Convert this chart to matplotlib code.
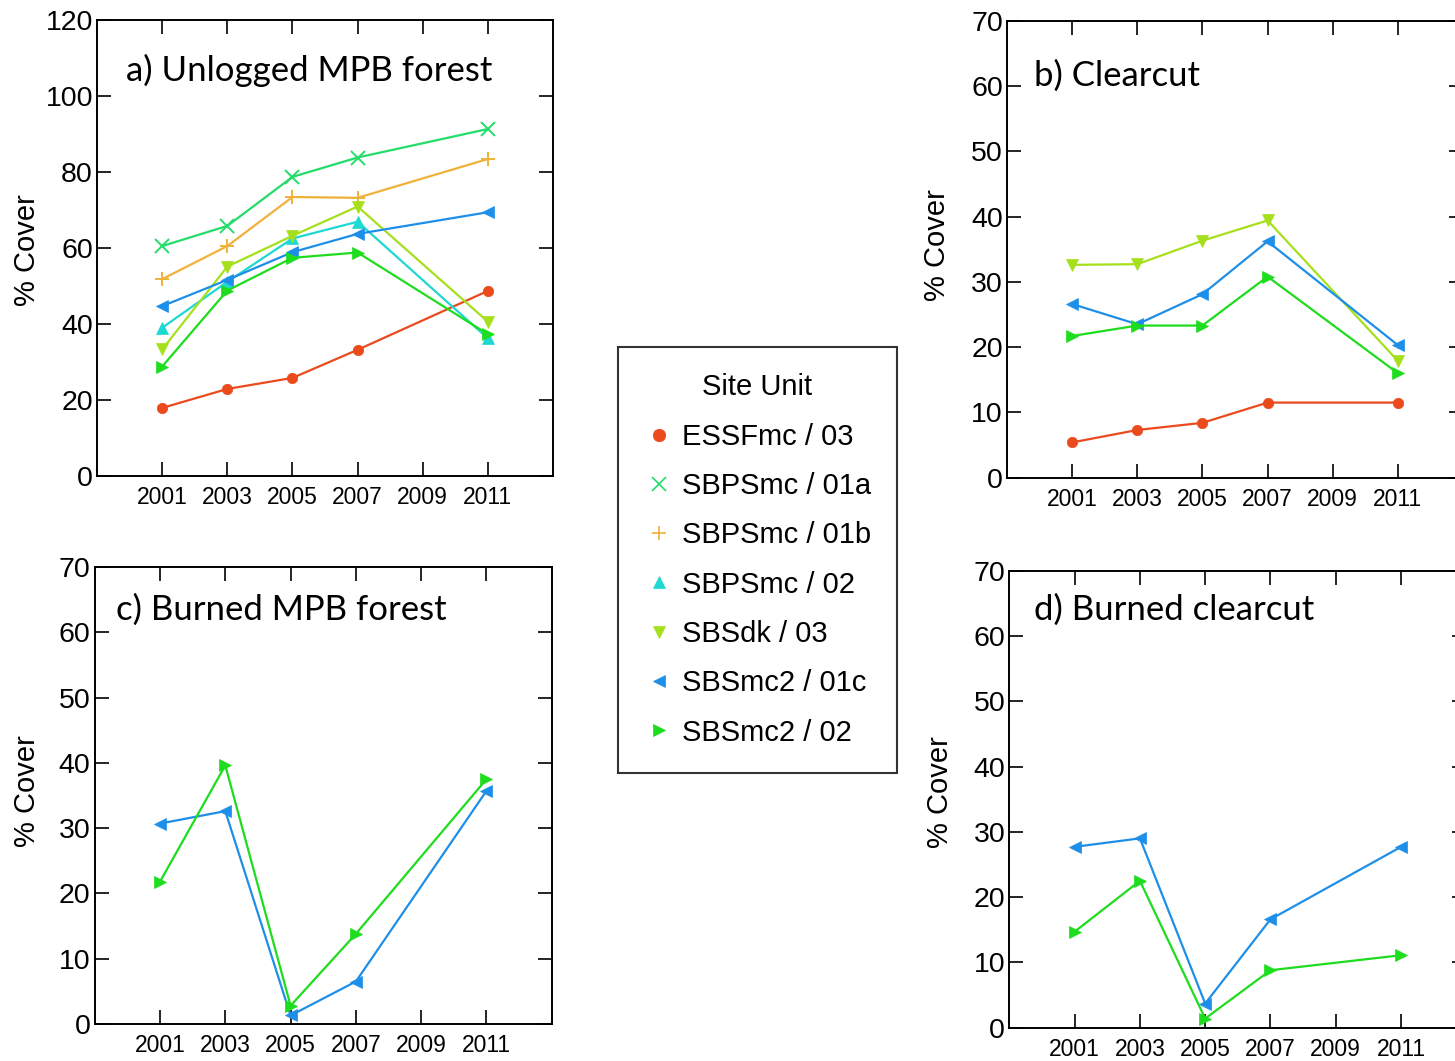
import matplotlib
matplotlib.use('Agg')
import matplotlib.pyplot as plt
from matplotlib.lines import Line2D

plt.rcParams['font.family'] = ['Liberation Sans', 'DejaVu Sans']

years = [2001, 2003, 2005, 2007, 2011]

site_units = ['ESSFmc / 03', 'SBPSmc / 01a', 'SBPSmc / 01b', 'SBPSmc / 02',
              'SBSdk / 03', 'SBSmc2 / 01c', 'SBSmc2 / 02']
colors = ['#ea4a1c', '#22dd6a', '#efb238', '#1ed8d2', '#a6e01c', '#1e8fe8', '#1edc1e']
markers = ['o', 'x', '+', '^', 'v', '<', '>']

# a) unlogged MPB forest
a_essf = [17.9, 22.9, 25.8, 33.2, 48.7]
a_01a = [60.5, 65.8, 78.7, 83.8, 91.3]
a_01b = [51.8, 60.5, 73.4, 73.2, 83.4]
a_sbps02 = [39.0, 51.1, 62.5, 66.9, 36.2]
a_sbsdk = [33.3, 55.1, 63.2, 70.9, 40.6]
a_01c = [44.7, 51.6, 58.9, 63.7, 69.4]
a_sbs02 = [28.8, 48.8, 57.4, 58.8, 37.3]

# b) clearcut
b_essf = [5.4, 7.3, 8.4, 11.5, 11.5]
b_sbsdk = [32.6, 32.7, 36.3, 39.4, 17.9]
b_01c = [26.6, 23.5, 28.1, 36.2, 20.3]
b_sbs02 = [21.7, 23.3, 23.3, 30.8, 16.0]

# c) burned MPB forest
c_01c = [30.7, 32.6, 1.3, 6.5, 35.7]
c_sbs02 = [21.8, 39.6, 2.8, 13.8, 37.5]

# d) burned clearcut
d_01c = [27.7, 29.0, 3.7, 16.6, 27.7]
d_sbs02 = [14.7, 22.5, 1.4, 8.8, 11.1]

panels = [
    ('a) Unlogged MPB forest', [0.0667, 0.5514, 0.3134, 0.4298], 120,
     [0, 1, 2, 3, 4, 5, 6], [a_essf, a_01a, a_01b, a_sbps02, a_sbsdk, a_01c, a_sbs02],
     (0.064, 0.89), (-0.153, 0.496)),
    ('b) Clearcut', [0.6921, 0.5498, 0.3134, 0.4307], 70,
     [0, 4, 5, 6], [b_essf, b_sbsdk, b_01c, b_sbs02], (0.059, 0.879), (-0.153, 0.51)),
    ('c) Burned MPB forest', [0.0651, 0.0349, 0.3141, 0.4307], 70,
     [5, 6], [c_01c, c_sbs02], (0.047, 0.906), (-0.148, 0.51)),
    ('d) Burned clearcut', [0.6937, 0.0314, 0.3141, 0.4307], 70,
     [5, 6], [d_01c, d_sbs02], (0.055, 0.914), (-0.151, 0.515)),
]

fig = plt.figure(figsize=(14.55, 10.61), dpi=100)

for title, pos, ymax, idx, series, tpos, lpos in panels:
    ax = fig.add_axes(pos)
    for i, vals in zip(idx, series):
        if markers[i] in ('x', '+'):
            ms, mew = 10, 1.4
        elif markers[i] == 'o':
            ms, mew = 7.5, 0.5
        else:
            ms, mew = 9, 0.5
        ax.plot(years, vals, color=colors[i], marker=markers[i], markersize=ms,
                linewidth=1.6, markeredgewidth=mew)
    ax.set_xlim(1999, 2013)
    ax.set_ylim(0, ymax)
    ax.set_xticks([2001, 2003, 2005, 2007, 2009, 2011])
    ax.set_yticks(range(0, ymax + 1, 20 if ymax == 120 else 10))
    ax.tick_params(axis='both', direction='in', length=10, width=1.2,
                   top=True, right=True)
    ax.tick_params(axis='x', labelsize=16.5, pad=7.5)
    ax.tick_params(axis='y', labelsize=20.5, pad=3)
    ax.set_ylabel('% Cover', fontsize=21)
    ax.yaxis.set_label_coords(lpos[0], lpos[1])
    ax.yaxis.label.set_va('center')
    for s in ax.spines.values():
        s.set_linewidth(1.4)
    ax.text(tpos[0], tpos[1], title, transform=ax.transAxes, fontsize=25,
            family=['Lato', 'DejaVu Sans'], va='center', ha='left')

handles = [Line2D([], [], color=colors[i], marker=markers[i], linestyle='none',
                  markersize=10 if markers[i] in ('x', '+') else 9,
                  markeredgewidth=1.2 if markers[i] in ('x', '+') else 0.5)
           for i in range(len(site_units))]
leg = fig.legend(handles, site_units, title='Site Unit', loc='center',
                 bbox_to_anchor=(0.5206, 0.4722), fontsize=21, title_fontsize=21,
                 frameon=True, fancybox=False, edgecolor='black',
                 borderpad=0.9, labelspacing=0.73, handletextpad=0.3,
                 handlelength=1.0, borderaxespad=0)
leg.get_frame().set_linewidth(1.5)

fig.savefig('out.png', dpi=100)
